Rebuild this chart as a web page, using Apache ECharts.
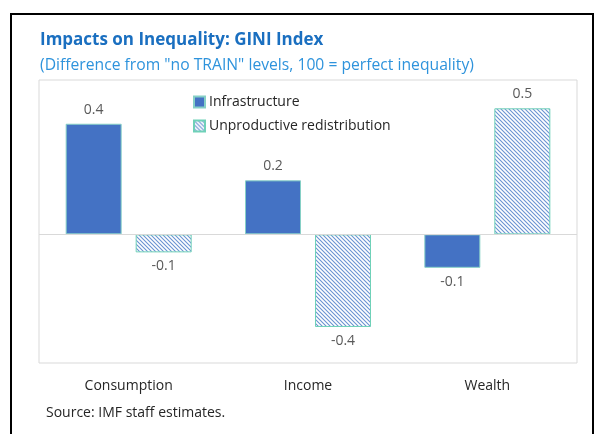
<!DOCTYPE html>
<html>
<head>
<meta charset="utf-8">
<script src="https://cdn.jsdelivr.net/npm/echarts@6/dist/echarts.min.js"></script>
<style>
  html, body { margin: 0; padding: 0; background: #fff; }
  #chart { width: 597px; height: 434px; }
</style>
</head>
<body>
<div id="chart"></div>
<script>
// Gini index change versus the "no TRAIN" baseline
const categories = ['Consumption', 'Income', 'Wealth'];
const infrastructure = [0.43, 0.21, -0.13];
const unproductiveRedistribution = [-0.07, -0.36, 0.49];
const seriesNames = ['Infrastructure', 'Unproductive redistribution'];

// Diagonal hatch fill for the redistribution bars
function hatchPattern() {
  const size = 4;
  const cv = document.createElement('canvas');
  cv.width = size; cv.height = size;
  const ctx = cv.getContext('2d');
  ctx.fillStyle = '#ffffff';
  ctx.fillRect(0, 0, size, size);
  ctx.strokeStyle = '#6a93d2';
  ctx.lineWidth = 1.1;
  ctx.beginPath();
  ctx.moveTo(-1, -1); ctx.lineTo(size + 1, size + 1);
  ctx.moveTo(-1, size - 1); ctx.lineTo(1, size + 1);
  ctx.moveTo(size - 1, -1); ctx.lineTo(size + 1, 1);
  ctx.stroke();
  return { image: cv, repeat: 'repeat' };
}

function withLabels(values) {
  return values.map(v => ({
    value: v,
    label: { position: v < 0 ? 'bottom' : 'top' }
  }));
}

const FONT = '"Open Sans", "Noto Sans", sans-serif';

const labelStyle = {
  show: true,
  distance: 7,
  color: '#595959',
  fontSize: 14,
  fontFamily: FONT,
  formatter: p => p.value.toFixed(1)
};

const chart = echarts.init(document.getElementById('chart'), null, { renderer: 'canvas' });

chart.setOption({
  animation: false,
  backgroundColor: '#ffffff',
  title: [
    {
      text: 'Impacts on Inequality: GINI Index',
      left: 35, top: 27,
      textStyle: { color: '#1a6fc0', fontSize: 17, fontWeight: 'bold', fontFamily: FONT }
    },
    {
      text: '(Difference from "no TRAIN" levels, 100 = perfect inequality)',
      left: 35, top: 53,
      textStyle: { color: '#2e93dc', fontSize: 15.7, fontWeight: 'normal', fontFamily: FONT }
    },
    {
      text: 'Source: IMF staff estimates.',
      left: 41, top: 401,
      textStyle: { color: '#262626', fontSize: 14, fontWeight: 'normal', fontFamily: FONT }
    }
  ],
  graphic: [
    {
      type: 'rect',
      shape: { x: 11, y: 14, width: 582, height: 440 },
      style: { fill: 'none', stroke: '#000000', lineWidth: 2 },
      silent: true
    }
  ],
  legend: {
    orient: 'vertical',
    left: 188, top: 90,
    itemWidth: 11, itemHeight: 11, itemGap: 10,
    icon: 'rect',
    data: seriesNames,
    textStyle: { color: '#262626', fontSize: 14, fontFamily: FONT, padding: [0, 0, 0, -1] }
  },
  grid: {
    show: true,
    left: 39, right: 20, top: 80, bottom: 71,
    borderColor: '#d9d9d9', borderWidth: 1,
    containLabel: false
  },
  xAxis: {
    type: 'category',
    data: categories,
    position: 'bottom',
    axisLine: { show: false, onZero: false },
    axisTick: { show: false },
    axisLabel: { margin: 16, color: '#262626', fontSize: 14, fontFamily: FONT }
  },
  yAxis: {
    type: 'value',
    min: -0.5, max: 0.6,
    show: false,
    splitLine: { show: false }
  },
  series: [
    {
      name: seriesNames[0],
      type: 'bar',
      barWidth: 56,
      barGap: '25%',
      data: withLabels(infrastructure),
      itemStyle: { color: '#4472c4', borderColor: '#86d0c6', borderWidth: 1 },
      label: labelStyle,
      markLine: {
        silent: true,
        symbol: 'none',
        label: { show: false },
        lineStyle: { color: '#d9d9d9', type: 'solid', width: 1 },
        data: [{ yAxis: 0 }]
      },
      z: 3
    },
    {
      name: seriesNames[1],
      type: 'bar',
      barWidth: 56,
      barGap: '25%',
      data: withLabels(unproductiveRedistribution),
      itemStyle: { color: hatchPattern(), borderColor: '#6fd1b8', borderWidth: 1 },
      label: labelStyle,
      z: 3
    }
  ]
});
</script>
</body>
</html>
